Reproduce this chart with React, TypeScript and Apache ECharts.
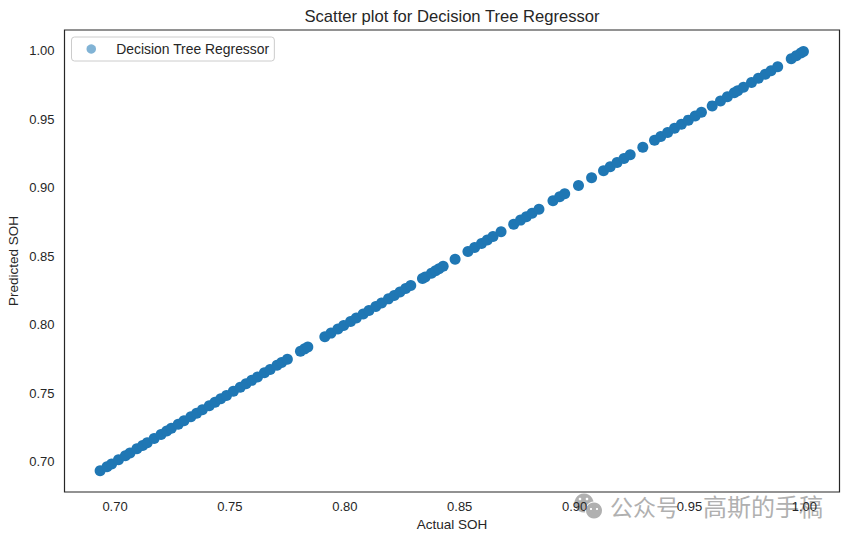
import React, { useEffect, useRef } from "react";
import * as echarts from "echarts";

const chartTitle = "Scatter plot for Decision Tree Regressor";
const seriesName = "Decision Tree Regressor";
const xName = "Actual SOH";
const yName = "Predicted SOH";
const xTicks = [0.7, 0.75, 0.8, 0.85, 0.9, 0.95, 1.0];
const yTicks = [0.7, 0.75, 0.8, 0.85, 0.9, 0.95, 1.0];

const actualSOH = [
  0.6935, 0.6965, 0.6985, 0.7015, 0.7045, 0.7065, 0.7095, 0.712, 0.714, 0.717, 0.72, 0.7225, 0.7245, 0.7275, 0.73,
  0.733, 0.7355, 0.738, 0.741, 0.7435, 0.746, 0.7485, 0.7515, 0.7545, 0.757, 0.7595, 0.762, 0.765, 0.7675, 0.7705,
  0.7725, 0.775, 0.7807, 0.7825, 0.7839, 0.7913, 0.794, 0.797, 0.7995, 0.8025, 0.805, 0.808, 0.8105, 0.8135, 0.816,
  0.819, 0.8215, 0.824, 0.8265, 0.8287, 0.8338, 0.835, 0.8377, 0.8395, 0.841, 0.8428, 0.848, 0.8536, 0.8565, 0.8595,
  0.862, 0.8645, 0.868, 0.8735, 0.8765, 0.879, 0.8815, 0.8845, 0.8906, 0.8935, 0.8957, 0.9017, 0.9074, 0.9126, 0.9155,
  0.9185, 0.9215, 0.9242, 0.9297, 0.9348, 0.9375, 0.9405, 0.9435, 0.9465, 0.9495, 0.9525, 0.9552, 0.9599, 0.9635,
  0.9665, 0.9695, 0.971, 0.9735, 0.977, 0.98, 0.983, 0.9855, 0.9884, 0.9943, 0.9965, 0.9985, 0.9996,
];
const predictedSOH = [
  0.6935, 0.6965, 0.6985, 0.7015, 0.7045, 0.7065, 0.7095, 0.712, 0.714, 0.717, 0.72, 0.7225, 0.7245, 0.7275, 0.73,
  0.733, 0.7355, 0.738, 0.741, 0.7435, 0.746, 0.7485, 0.7515, 0.7545, 0.757, 0.7595, 0.762, 0.765, 0.7675, 0.7705,
  0.7725, 0.775, 0.7807, 0.7825, 0.7839, 0.7913, 0.794, 0.797, 0.7995, 0.8025, 0.805, 0.808, 0.8105, 0.8135, 0.816,
  0.819, 0.8215, 0.824, 0.8265, 0.8287, 0.8338, 0.835, 0.8377, 0.8395, 0.841, 0.8428, 0.848, 0.8536, 0.8565, 0.8595,
  0.862, 0.8645, 0.868, 0.8735, 0.8765, 0.879, 0.8815, 0.8845, 0.8906, 0.8935, 0.8957, 0.9017, 0.9074, 0.9126, 0.9155,
  0.9185, 0.9215, 0.9242, 0.9297, 0.9348, 0.9375, 0.9405, 0.9435, 0.9465, 0.9495, 0.9525, 0.9552, 0.9599, 0.9635,
  0.9665, 0.9695, 0.971, 0.9735, 0.977, 0.98, 0.983, 0.9855, 0.9884, 0.9943, 0.9965, 0.9985, 0.9996,
];

const FONT = '"Liberation Sans", Arial, sans-serif';
const INK = "#262626";
const BLUE = "#1f77b4";
const MARK = "#b0b0b0";

export default function App() {
  const ref = useRef<HTMLDivElement>(null);
  useEffect(() => {
    const chart = echarts.init(ref.current!, undefined, { renderer: "svg" });
    const axisCommon = {
      type: "value",
      nameLocation: "middle",
      nameMoveOverlap: false,
      nameTextStyle: { color: INK, fontFamily: FONT, fontSize: 13.5 },
      axisLine: { show: false },
      axisTick: { show: false },
      splitLine: { show: false },
      min: 0.678,
      max: 1.0153,
    };
    chart.setOption({
      animation: false,
      backgroundColor: "#ffffff",
      title: {
        text: chartTitle,
        left: 452,
        top: 8,
        padding: 0,
        textAlign: "center",
        textStyle: { color: INK, fontFamily: FONT, fontSize: 16.6, fontWeight: "normal" },
      },
      grid: {
        left: 64.5,
        right: 9.5,
        top: 30,
        bottom: 49,
        outerBoundsMode: "none",
        show: true,
        borderColor: INK,
        borderWidth: 1.2,
        backgroundColor: "transparent",
      },
      legend: {
        data: [{ name: seriesName, icon: "circle", itemStyle: { color: BLUE, opacity: 0.56 } }],
        left: 71.5,
        top: 37,
        orient: "vertical",
        itemWidth: 40,
        itemHeight: 9.5,
        padding: [5, 5, 5, 15],
        backgroundColor: "#ffffff",
        borderColor: "#cccccc",
        borderWidth: 1,
        borderRadius: 3,
        textStyle: { color: INK, fontFamily: FONT, fontSize: 13.9 },
      },
      xAxis: {
        ...axisCommon,
        name: xName,
        nameGap: 25,
        axisLabel: {
          color: INK,
          fontFamily: FONT,
          fontSize: 13,
          margin: 8,
          customValues: xTicks,
          formatter: (v: number) => v.toFixed(2),
        },
      },
      yAxis: {
        ...axisCommon,
        name: yName,
        nameGap: 44,
        axisLabel: {
          color: INK,
          fontFamily: FONT,
          fontSize: 13,
          margin: 10,
          padding: [4, 0, 0, 0],
          customValues: yTicks,
          formatter: (v: number) => v.toFixed(2),
        },
      },
      series: [
        {
          name: seriesName,
          type: "scatter",
          symbol: "circle",
          symbolSize: 11,
          itemStyle: { color: BLUE, opacity: 1 },
          data: actualSOH.map((x, i) => [x, predictedSOH[i]]),
        },
      ],
      graphic: [
        { type: "circle", z: -1, shape: { cx: 584, cy: 503, r: 9.5 }, style: { fill: MARK } },
        { type: "circle", z: -1, shape: { cx: 594, cy: 510.5, r: 9 }, style: { fill: "#ffffff" } },
        { type: "circle", z: -1, shape: { cx: 594, cy: 510.5, r: 8 }, style: { fill: MARK } },
        { type: "circle", z: -1, shape: { cx: 580, cy: 499, r: 1.3 }, style: { fill: "#ffffff" } },
        { type: "circle", z: -1, shape: { cx: 587, cy: 499, r: 1.3 }, style: { fill: "#ffffff" } },
        { type: "circle", z: -1, shape: { cx: 591, cy: 509, r: 1.1 }, style: { fill: "#ffffff" } },
        { type: "circle", z: -1, shape: { cx: 597, cy: 509, r: 1.1 }, style: { fill: "#ffffff" } },
        {
          type: "text",
          z: -1,
          x: 610,
          y: 494,
          style: { text: "公众号", fill: MARK, fontFamily: '"Noto Sans CJK SC"', fontSize: 23 },
        },
        {
          type: "text",
          z: -1,
          x: 703,
          y: 493,
          style: { text: "高斯的手稿", fill: MARK, fontFamily: '"Noto Sans CJK SC"', fontSize: 24 },
        },
      ],
    });
    return () => chart.dispose();
  }, []);
  return <div ref={ref} style={{ position: "fixed", left: 0, top: 0, width: 849, height: 541 }} />;
}
